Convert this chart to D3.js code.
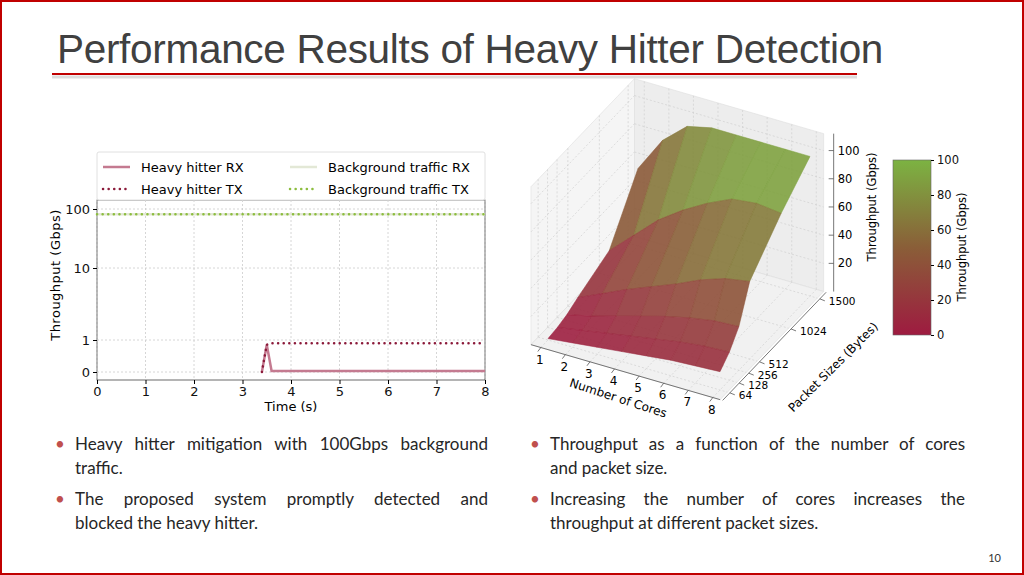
<!DOCTYPE html>
<html><head><meta charset="utf-8">
<script src="https://cdn.jsdelivr.net/npm/d3@7"></script>
<style>
body{margin:0;width:1024px;height:575px;overflow:hidden;background:#fff;font-family:Lato,"Open Sans",sans-serif}
.b{position:absolute;font-size:17px;color:#262626;line-height:24px}
.b div{white-space:nowrap}
.b .j{text-align:justify;text-align-last:justify}
.b span{position:absolute;left:-20px;top:0;color:#c0504d}
</style></head><body>
<svg id="s" width="1024" height="575" style="position:absolute;left:0;top:0"></svg>
<div class="b" style="left:75px;top:432px;width:413px"><span>•</span><div class="j">Heavy hitter mitigation with 100Gbps background</div><div>traffic.</div></div>
<div class="b" style="left:75px;top:487px;width:413px"><span>•</span><div class="j">The proposed system promptly detected and</div><div>blocked the heavy hitter.</div></div>
<div class="b" style="left:550px;top:432px;width:415px"><span>•</span><div class="j">Throughput as a function of the number of cores</div><div>and packet size.</div></div>
<div class="b" style="left:550px;top:487px;width:415px"><span>•</span><div class="j">Increasing the number of cores increases the</div><div>throughput at different packet sizes.</div></div>
<script>
// ---- data ----
const xTicks=[0,1,2,3,4,5,6,7,8];
const yTicks=[0,1,10,100];
const hhRX=[[3.4,0],[3.5,0.85],[3.6,0.03],[8,0.03]];
const hhTX=[[3.4,0],[3.5,0.85],[3.6,0.9],[8,0.9]];
const bgRX=[[0,92],[8,92]];
const bgTX=[[0,92],[8,92]];
const cores=[1,2,3,4,5,6,7,8];
const pkts=[64,128,256,512,1024,1500];
const thr=[
 [1,3,5,7,9,11,12,13],
 [2,5,8,11,14,17,19,20],
 [4,8,13,18,23,27,30,31],
 [8,16,24,31,38,46,52,55],
 [18,34,50,62,72,80,82,80],
 [55,80,95,99,99,99,99,99]];
const zTicks=[20,40,60,80,100];
const cbTicks=[0,20,40,60,80,100];

const svg=d3.select("#s");
svg.append("rect").attr("x",1).attr("y",1).attr("width",1022).attr("height",573).attr("fill","none").attr("stroke","#c00000").attr("stroke-width",2);
svg.append("text").attr("x",57).attr("y",63).attr("font-size",40.5).attr("fill","#404040").attr("font-family","Liberation Sans, Arial").attr("letter-spacing",-0.3).text("Performance Results of Heavy Hitter Detection");
svg.append("line").attr("x1",52).attr("x2",857).attr("y1",77).attr("y2",77).attr("stroke","#ddd").attr("stroke-width",3);
svg.append("line").attr("x1",52).attr("x2",857).attr("y1",74).attr("y2",74).attr("stroke","#c00000").attr("stroke-width",2);
svg.append("text").attr("x",1001).attr("y",562).attr("font-size",11).attr("text-anchor","end").attr("fill","#333").text("10");

// ---- left chart ----
const F="DejaVu Sans";
const x=d3.scaleLinear().domain([0,8]).range([97,485]);
const y=d3.scaleLinear().domain([0,1,10,100]).range([372,340,268,209]);
const g=svg.append("g").attr("font-family",F);
const B=380, TP=200;
g.append("rect").attr("x",97).attr("y",TP).attr("width",388).attr("height",B-TP).attr("fill","#fff").attr("stroke","#444").attr("stroke-width",0.8);
xTicks.forEach(t=>g.append("line").attr("x1",x(t)).attr("x2",x(t)).attr("y1",TP).attr("y2",B).attr("stroke","#ccc").attr("stroke-dasharray","2,2").attr("stroke-width",0.8));
yTicks.forEach(t=>g.append("line").attr("x1",97).attr("x2",485).attr("y1",y(t)).attr("y2",y(t)).attr("stroke","#ccc").attr("stroke-dasharray","2,2").attr("stroke-width",0.8));
g.append("g").attr("transform",`translate(0,${B})`).call(d3.axisBottom(x).tickValues(xTicks).tickSize(4)).call(a=>{a.select(".domain").remove();a.selectAll("text").attr("font-size",13).attr("fill","#111").attr("font-family",F)});
g.append("g").attr("transform","translate(97,0)").call(d3.axisLeft(y).tickValues(yTicks).tickFormat(d3.format("d")).tickSize(4)).call(a=>{a.select(".domain").remove();a.selectAll("text").attr("font-size",13).attr("fill","#111").attr("font-family",F)});
g.append("text").attr("x",291).attr("y",411).attr("text-anchor","middle").attr("font-size",13).text("Time (s)");
g.append("text").attr("transform","translate(60,275) rotate(-90)").attr("text-anchor","middle").attr("font-size",13).attr("letter-spacing",0.5).text("Throughput (Gbps)");
const ln=d3.line().x(d=>x(d[0])).y(d=>y(d[1]));
const series=[
 {d:bgRX,c:"#e3e8d6",w:2.5,da:null,n:"Background traffic RX"},
 {d:bgTX,c:"#8cbd3e",w:2.5,da:"0.1,5.5",n:"Background traffic TX"},
 {d:hhRX,c:"#c47a90",w:2.5,da:null,n:"Heavy hitter RX"},
 {d:hhTX,c:"#8b1a3a",w:2.5,da:"0.1,5.5",n:"Heavy hitter TX"}];
series.forEach(s=>g.append("path").attr("d",ln(s.d)).attr("fill","none").attr("stroke",s.c).attr("stroke-width",s.w).attr("stroke-dasharray",s.da).attr("stroke-linecap",s.da?"round":"butt"));
g.append("rect").attr("x",97).attr("y",152).attr("width",388).attr("height",48).attr("rx",2).attr("fill","#fff").attr("stroke","#e0e0e0");
const leg=[[series[2],103,167],[series[3],103,189],[series[0],290,167],[series[1],290,189]];
leg.forEach(([s,lx,ly])=>{g.append("line").attr("x1",lx).attr("x2",lx+27).attr("y1",ly).attr("y2",ly).attr("stroke",s.c).attr("stroke-width",s.w).attr("stroke-dasharray",s.da).attr("stroke-linecap",s.da?"round":"butt");
 g.append("text").attr("x",lx+38).attr("y",ly+4.5).attr("font-size",13).text(s.n);});

// ---- 3D surface ----
const cS=d3.scaleLinear().domain([1,8]).range([0,1]);
const pS=d3.scaleLinear().domain(pkts).range([0,0.104,0.21,0.33,0.68,1]);
const zS=d3.scaleLinear().domain([0,100]).range([0,1]);
const O=[548,340], EC=[172,50], EP=[90,-94], EZ=[0,-141];
function P(c,b,z){const a=cS(c),h=zS(z);return [O[0]+a*EC[0]+b*EP[0]+h*EZ[0],O[1]+a*EC[1]+b*EP[1]+h*EZ[1]];}
const s3=svg.append("g").attr("font-family",F);
const c0=0.6,c1=8.3,p0=-0.08,p1=1.07,z1=112;
function poly(pts,fill){s3.append("polygon").attr("points",pts.map(q=>q.join(",")).join(" ")).attr("fill",fill).attr("stroke","#ddd").attr("stroke-width",0.6);}
poly([P(c0,p0,0),P(c0,p1,0),P(c0,p1,z1),P(c0,p0,z1)],"#f5f5f5");
poly([P(c0,p1,0),P(c1,p1,0),P(c1,p1,z1),P(c0,p1,z1)],"#ededed");
poly([P(c0,p0,0),P(c1,p0,0),P(c1,p1,0),P(c0,p1,0)],"#f1f1f1");
const gl=(a,b)=>s3.append("line").attr("x1",a[0]).attr("y1",a[1]).attr("x2",b[0]).attr("y2",b[1]).attr("stroke","#d0d0d0").attr("stroke-dasharray","2,2").attr("stroke-width",0.7);
zTicks.forEach(z=>{gl(P(c0,p0,z),P(c0,p1,z));gl(P(c0,p1,z),P(c1,p1,z));});
pkts.forEach(p=>{const b=pS(p);gl(P(c0,b,0),P(c0,b,z1));gl(P(c0,b,0),P(c1,b,0));});
cores.forEach(c=>{gl(P(c,p1,0),P(c,p1,z1));gl(P(c,p0,0),P(c,p1,0));});
const col=d3.scaleLinear().domain([0,50,100]).range(["#9e1b40","#8a5e38","#7cb342"]).interpolate(d3.interpolateRgb);
const quads=[];
for(let j=pkts.length-2;j>=0;j--)for(let i=0;i<cores.length-1;i++){
 const v=[[i,j],[i+1,j],[i+1,j+1],[i,j+1]];
 const avg=d3.mean(v,q=>thr[q[1]][q[0]]);
 quads.push({pts:v.map(q=>P(cores[q[0]],pS(pkts[q[1]]),thr[q[1]][q[0]])),z:avg});}
quads.forEach(q=>s3.append("polygon").attr("points",q.pts.map(a=>a.join(",")).join(" ")).attr("fill",col(q.z)).attr("fill-opacity",0.9).attr("stroke",col(q.z)).attr("stroke-width",0.5));
const ax=(a,b)=>s3.append("line").attr("x1",a[0]).attr("y1",a[1]).attr("x2",b[0]).attr("y2",b[1]).attr("stroke","#555").attr("stroke-width",0.8);
ax(P(c0,p0,0),P(c1,p0,0));
cores.forEach(c=>{const a=P(c,p0,0);ax(a,[a[0]-3,a[1]+4]);s3.append("text").attr("x",a[0]-1).attr("y",a[1]+16).attr("font-size",12).attr("text-anchor","middle").text(c);});
s3.append("text").attr("transform",`translate(617,402) rotate(18)`).attr("font-size",12).attr("text-anchor","middle").text("Number of Cores");
ax(P(c1+0.1,p0,0),P(c1+0.1,p1,0));
pkts.forEach(p=>{const a=P(c1+0.1,pS(p),0);ax(a,[a[0]+5,a[1]+2]);s3.append("text").attr("x",a[0]+9).attr("y",a[1]+6).attr("font-size",10.5).text(p);});
s3.append("text").attr("transform",`translate(836,370) rotate(-45)`).attr("font-size",12).attr("text-anchor","middle").text("Packet Sizes (Bytes)");
const zb=P(c1,p1,0);
ax([zb[0]+10,zb[1]],[zb[0]+10,P(c1,p1,z1)[1]]);
zTicks.forEach(z=>{const a=P(c1,p1,z);ax([a[0]+10,a[1]],[a[0]+5,a[1]]);s3.append("text").attr("x",a[0]+14).attr("y",a[1]+4).attr("font-size",11.5).text(z);});
s3.append("text").attr("transform",`translate(876,${P(c1,p1,60)[1]}) rotate(-90)`).attr("font-size",11.5).attr("text-anchor","middle").text("Throughput (Gbps)");
const cb=d3.scaleLinear().domain([0,100]).range([335,160]);
const df=svg.append("defs").append("linearGradient").attr("id","gr").attr("x1",0).attr("y1",1).attr("x2",0).attr("y2",0);
[0,50,100].forEach(v=>df.append("stop").attr("offset",v+"%").attr("stop-color",col(v)));
s3.append("rect").attr("x",893).attr("y",160).attr("width",38).attr("height",175).attr("fill","url(#gr)").attr("stroke","#666").attr("stroke-width",0.6);
s3.append("g").attr("transform","translate(931,0)").call(d3.axisRight(cb).tickValues(cbTicks).tickSize(3)).call(a=>{a.select(".domain").remove();a.selectAll("text").attr("font-size",11.5).attr("font-family",F).attr("fill","#111")});
s3.append("text").attr("transform","translate(966,247) rotate(-90)").attr("font-size",11.5).attr("text-anchor","middle").text("Throughput (Gbps)");
</script></body></html>
